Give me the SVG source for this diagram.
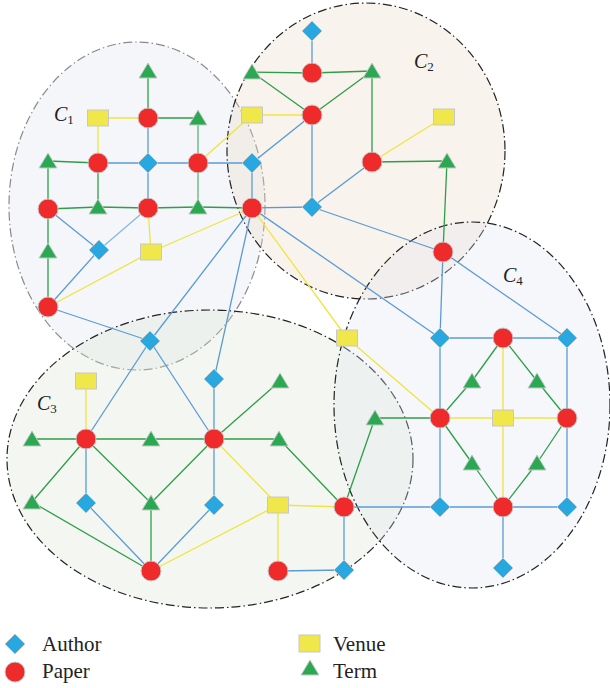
<svg xmlns="http://www.w3.org/2000/svg" xmlns:xlink="http://www.w3.org/1999/xlink" width="610" height="688" viewBox="0 0 610 688">
<style>
.cl{stroke-width:1.2;stroke-dasharray:9 3 1.5 3}
.b{stroke:#5b9bd5;stroke-width:1.3}
.g{stroke:#2e9e48;stroke-width:1.3}
.y{stroke:#f0e440;stroke-width:1.3}
.lab{font-family:"Liberation Serif",serif;font-style:italic;font-size:20px;fill:#222}
.sub{font-style:normal;font-size:13px}
.leg{font-family:"Liberation Serif",serif;font-size:21px;fill:#222}
</style>
<defs>
<path id="author" d="M0,-10 L10,0 L0,10 L-10,0 Z" fill="#29a8e0" stroke="#c8c8c8" stroke-width="1"/>
<circle id="paper" r="10" fill="#ee2a2a" stroke="#c8c8c8" stroke-width="1"/>
<rect id="venue" x="-10.5" y="-8" width="21" height="16" fill="#f0e84a" stroke="#c8c8c8" stroke-width="1"/>
<path id="term" d="M0,-8 L9,7 L-9,7 Z" fill="#2aa852" stroke="#c8c8c8" stroke-width="1"/>
</defs>
<g id="clusters">
<ellipse cx="137" cy="206" rx="128" ry="164" fill="#dfe6f0" fill-opacity="0.35" stroke="#8a8a8a" class="cl"/>
<ellipse cx="366" cy="151" rx="139" ry="148" fill="#ecd9c6" fill-opacity="0.32" stroke="#222" class="cl"/>
<ellipse cx="210" cy="459" rx="203" ry="149" fill="#dbe6d2" fill-opacity="0.3" stroke="#222" class="cl"/>
<ellipse cx="472" cy="405" rx="138" ry="183" fill="#dfe6f0" fill-opacity="0.3" stroke="#222" class="cl"/>
</g>
<g id="connectors">
<!-- blue -->
<line class="b" x1="148" y1="118" x2="148" y2="163"/>
<line class="b" x1="98" y1="163" x2="148" y2="163"/>
<line class="b" x1="148" y1="163" x2="198" y2="163"/>
<line class="b" x1="198" y1="163" x2="252" y2="163"/>
<line class="b" x1="148" y1="163" x2="148" y2="208"/>
<line class="b" x1="48" y1="209" x2="99" y2="250"/>
<line class="b" x1="148" y1="208" x2="99" y2="250" stroke-opacity="0.7"/>
<line class="b" x1="99" y1="250" x2="48" y2="307"/>
<line class="b" x1="48" y1="307" x2="150" y2="341"/>
<line class="b" x1="252" y1="163" x2="252" y2="208"/>
<line class="b" x1="252" y1="163" x2="312" y2="115"/>
<line class="b" x1="312" y1="31" x2="312" y2="73"/>
<line class="b" x1="312" y1="115" x2="312" y2="207"/>
<line class="b" x1="372" y1="162" x2="312" y2="207"/>
<line class="b" x1="312" y1="207" x2="252" y2="208"/>
<line class="b" x1="312" y1="207" x2="443" y2="252"/>
<line class="b" x1="252" y1="208" x2="150" y2="341"/>
<line class="b" x1="252" y1="208" x2="214" y2="379"/>
<line class="b" x1="252" y1="208" x2="440" y2="338"/>
<line class="b" x1="443" y1="252" x2="440" y2="338"/>
<line class="b" x1="443" y1="252" x2="567" y2="338"/>
<line class="b" x1="440" y1="338" x2="503" y2="338"/>
<line class="b" x1="503" y1="338" x2="567" y2="338"/>
<line class="b" x1="440" y1="338" x2="440" y2="418"/>
<line class="b" x1="567" y1="338" x2="567" y2="418"/>
<line class="b" x1="440" y1="418" x2="440" y2="507"/>
<line class="b" x1="567" y1="418" x2="567" y2="507"/>
<line class="b" x1="440" y1="507" x2="503" y2="507"/>
<line class="b" x1="503" y1="507" x2="567" y2="507"/>
<line class="b" x1="503" y1="507" x2="503" y2="568"/>
<line class="b" x1="344" y1="507" x2="440" y2="507"/>
<line class="b" x1="344" y1="507" x2="344" y2="570"/>
<line class="b" x1="278" y1="571" x2="344" y2="570"/>
<line class="b" x1="150" y1="341" x2="86" y2="439"/>
<line class="b" x1="150" y1="341" x2="214" y2="439"/>
<line class="b" x1="214" y1="379" x2="214" y2="439"/>
<line class="b" x1="86" y1="439" x2="86" y2="503"/>
<line class="b" x1="214" y1="439" x2="214" y2="505"/>
<line class="b" x1="86" y1="503" x2="151" y2="571"/>
<line class="b" x1="214" y1="505" x2="151" y2="571"/>
<!-- green -->
<line class="g" x1="148" y1="71" x2="148" y2="118"/>
<line class="g" x1="148" y1="118" x2="198" y2="118"/>
<line class="g" x1="198" y1="118" x2="198" y2="163" stroke-opacity="0.75"/>
<line class="g" x1="48" y1="161" x2="98" y2="163"/>
<line class="g" x1="98" y1="163" x2="98" y2="207"/>
<line class="g" x1="198" y1="163" x2="198" y2="207" stroke-opacity="0.75"/>
<line class="g" x1="48" y1="161" x2="48" y2="209"/>
<line class="g" x1="48" y1="209" x2="98" y2="207"/>
<line class="g" x1="98" y1="207" x2="148" y2="208"/>
<line class="g" x1="148" y1="208" x2="198" y2="207"/>
<line class="g" x1="198" y1="207" x2="252" y2="208"/>
<line class="g" x1="48" y1="209" x2="48" y2="251"/>
<line class="g" x1="48" y1="251" x2="48" y2="307"/>
<line class="g" x1="252" y1="72" x2="312" y2="73"/>
<line class="g" x1="312" y1="73" x2="372" y2="71"/>
<line class="g" x1="252" y1="72" x2="312" y2="115"/>
<line class="g" x1="372" y1="71" x2="312" y2="115"/>
<line class="g" x1="372" y1="71" x2="372" y2="162"/>
<line class="g" x1="372" y1="162" x2="447" y2="161"/>
<line class="g" x1="447" y1="161" x2="443" y2="252"/>
<line class="g" x1="503" y1="338" x2="472" y2="381"/>
<line class="g" x1="472" y1="381" x2="440" y2="418"/>
<line class="g" x1="503" y1="338" x2="537" y2="381"/>
<line class="g" x1="537" y1="381" x2="567" y2="418"/>
<line class="g" x1="440" y1="418" x2="472" y2="463"/>
<line class="g" x1="472" y1="463" x2="503" y2="507"/>
<line class="g" x1="567" y1="418" x2="537" y2="463"/>
<line class="g" x1="537" y1="463" x2="503" y2="507"/>
<line class="g" x1="344" y1="507" x2="375" y2="418"/>
<line class="g" x1="375" y1="418" x2="440" y2="418"/>
<line class="g" x1="280" y1="381" x2="214" y2="439"/>
<line class="g" x1="32" y1="439" x2="86" y2="439"/>
<line class="g" x1="86" y1="439" x2="151" y2="439"/>
<line class="g" x1="151" y1="439" x2="214" y2="439"/>
<line class="g" x1="214" y1="439" x2="279" y2="439"/>
<line class="g" x1="86" y1="439" x2="32" y2="502"/>
<line class="g" x1="86" y1="439" x2="151" y2="503"/>
<line class="g" x1="214" y1="439" x2="151" y2="503"/>
<line class="g" x1="32" y1="502" x2="151" y2="571"/>
<line class="g" x1="151" y1="503" x2="151" y2="571"/>
<line class="g" x1="279" y1="439" x2="344" y2="507"/>
<!-- yellow -->
<line class="y" x1="98" y1="118" x2="148" y2="118"/>
<line class="y" x1="98" y1="118" x2="98" y2="163"/>
<line class="y" x1="198" y1="163" x2="252" y2="115"/>
<line class="y" x1="252" y1="115" x2="312" y2="115"/>
<line class="y" x1="444" y1="117" x2="372" y2="162"/>
<line class="y" x1="148" y1="208" x2="151" y2="252"/>
<line class="y" x1="151" y1="252" x2="48" y2="307"/>
<line class="y" x1="151" y1="252" x2="252" y2="208"/>
<line class="y" x1="252" y1="208" x2="347" y2="338"/>
<line class="y" x1="347" y1="338" x2="440" y2="418"/>
<line class="y" x1="440" y1="418" x2="503" y2="418"/>
<line class="y" x1="503" y1="418" x2="567" y2="418"/>
<line class="y" x1="503" y1="338" x2="503" y2="418"/>
<line class="y" x1="503" y1="418" x2="503" y2="507"/>
<line class="y" x1="86" y1="381" x2="86" y2="439"/>
<line class="y" x1="214" y1="439" x2="278" y2="505"/>
<line class="y" x1="278" y1="505" x2="151" y2="571"/>
<line class="y" x1="278" y1="505" x2="344" y2="507"/>
<line class="y" x1="278" y1="505" x2="278" y2="571"/>
</g>
<g id="n-t1"><use xlink:href="#term" x="148" y="71"/></g>
<g id="n-v1"><use xlink:href="#venue" x="98" y="118"/></g>
<g id="n-p1"><use xlink:href="#paper" x="148" y="118"/></g>
<g id="n-t2"><use xlink:href="#term" x="198" y="118"/></g>
<g id="n-t3"><use xlink:href="#term" x="48" y="161"/></g>
<g id="n-p2"><use xlink:href="#paper" x="98" y="163"/></g>
<g id="n-a1"><use xlink:href="#author" x="148" y="163"/></g>
<g id="n-p3"><use xlink:href="#paper" x="198" y="163"/></g>
<g id="n-a2"><use xlink:href="#author" x="252" y="163"/></g>
<g id="n-p4"><use xlink:href="#paper" x="48" y="209"/></g>
<g id="n-t4"><use xlink:href="#term" x="98" y="207"/></g>
<g id="n-p5"><use xlink:href="#paper" x="148" y="208"/></g>
<g id="n-t5"><use xlink:href="#term" x="198" y="207"/></g>
<g id="n-p6"><use xlink:href="#paper" x="252" y="208"/></g>
<g id="n-t6"><use xlink:href="#term" x="48" y="251"/></g>
<g id="n-a3"><use xlink:href="#author" x="99" y="250"/></g>
<g id="n-v2"><use xlink:href="#venue" x="151" y="252"/></g>
<g id="n-p7"><use xlink:href="#paper" x="48" y="307"/></g>
<g id="n-a4"><use xlink:href="#author" x="150" y="341"/></g>
<g id="n-v3"><use xlink:href="#venue" x="252" y="115"/></g>
<g id="n-t7"><use xlink:href="#term" x="252" y="72"/></g>
<g id="n-a5"><use xlink:href="#author" x="312" y="31"/></g>
<g id="n-p8"><use xlink:href="#paper" x="312" y="73"/></g>
<g id="n-t8"><use xlink:href="#term" x="372" y="71"/></g>
<g id="n-p9"><use xlink:href="#paper" x="312" y="115"/></g>
<g id="n-v4"><use xlink:href="#venue" x="444" y="117"/></g>
<g id="n-p10"><use xlink:href="#paper" x="372" y="162"/></g>
<g id="n-t9"><use xlink:href="#term" x="447" y="161"/></g>
<g id="n-a6"><use xlink:href="#author" x="312" y="207"/></g>
<g id="n-p11"><use xlink:href="#paper" x="443" y="252"/></g>
<g id="n-v5"><use xlink:href="#venue" x="347" y="338"/></g>
<g id="n-a7"><use xlink:href="#author" x="440" y="338"/></g>
<g id="n-p12"><use xlink:href="#paper" x="503" y="338"/></g>
<g id="n-a8"><use xlink:href="#author" x="567" y="338"/></g>
<g id="n-t10"><use xlink:href="#term" x="472" y="381"/></g>
<g id="n-t11"><use xlink:href="#term" x="537" y="381"/></g>
<g id="n-t12"><use xlink:href="#term" x="375" y="418"/></g>
<g id="n-p13"><use xlink:href="#paper" x="440" y="418"/></g>
<g id="n-v6"><use xlink:href="#venue" x="503" y="418"/></g>
<g id="n-p14"><use xlink:href="#paper" x="567" y="418"/></g>
<g id="n-t13"><use xlink:href="#term" x="472" y="463"/></g>
<g id="n-t14"><use xlink:href="#term" x="537" y="463"/></g>
<g id="n-p15"><use xlink:href="#paper" x="344" y="507"/></g>
<g id="n-a9"><use xlink:href="#author" x="440" y="507"/></g>
<g id="n-p16"><use xlink:href="#paper" x="503" y="507"/></g>
<g id="n-a10"><use xlink:href="#author" x="567" y="507"/></g>
<g id="n-a11"><use xlink:href="#author" x="503" y="568"/></g>
<g id="n-a12"><use xlink:href="#author" x="344" y="570"/></g>
<g id="n-v7"><use xlink:href="#venue" x="86" y="381"/></g>
<g id="n-a13"><use xlink:href="#author" x="214" y="379"/></g>
<g id="n-t15"><use xlink:href="#term" x="280" y="381"/></g>
<g id="n-t16"><use xlink:href="#term" x="32" y="439"/></g>
<g id="n-p17"><use xlink:href="#paper" x="86" y="439"/></g>
<g id="n-t17"><use xlink:href="#term" x="151" y="439"/></g>
<g id="n-p18"><use xlink:href="#paper" x="214" y="439"/></g>
<g id="n-t18"><use xlink:href="#term" x="279" y="439"/></g>
<g id="n-t19"><use xlink:href="#term" x="32" y="502"/></g>
<g id="n-a14"><use xlink:href="#author" x="86" y="503"/></g>
<g id="n-t20"><use xlink:href="#term" x="151" y="503"/></g>
<g id="n-a15"><use xlink:href="#author" x="214" y="505"/></g>
<g id="n-v8"><use xlink:href="#venue" x="278" y="505"/></g>
<g id="n-p19"><use xlink:href="#paper" x="151" y="571"/></g>
<g id="n-p20"><use xlink:href="#paper" x="278" y="571"/></g>
<g id="cluster-labels">
<text class="lab" x="54" y="121">C<tspan class="sub" dy="3">1</tspan></text>
<text class="lab" x="414" y="68">C<tspan class="sub" dy="3">2</tspan></text>
<text class="lab" x="37" y="410">C<tspan class="sub" dy="3">3</tspan></text>
<text class="lab" x="503" y="282">C<tspan class="sub" dy="3">4</tspan></text>
</g>
<g id="legend">
<g id="leg-author"><use xlink:href="#author" x="15" y="644"/><text class="leg" x="42" y="651">Author</text></g>
<g id="leg-paper"><use xlink:href="#paper" x="15" y="672"/><text class="leg" x="42" y="678">Paper</text></g>
<g id="leg-venue"><rect x="299" y="635" width="21" height="17" fill="#f0e84a" stroke="#c8c8c8" stroke-width="1"/><text class="leg" x="333" y="651">Venue</text></g>
<g id="leg-term"><use xlink:href="#term" x="310" y="668"/><text class="leg" x="333" y="678">Term</text></g>
</g>
</svg>
